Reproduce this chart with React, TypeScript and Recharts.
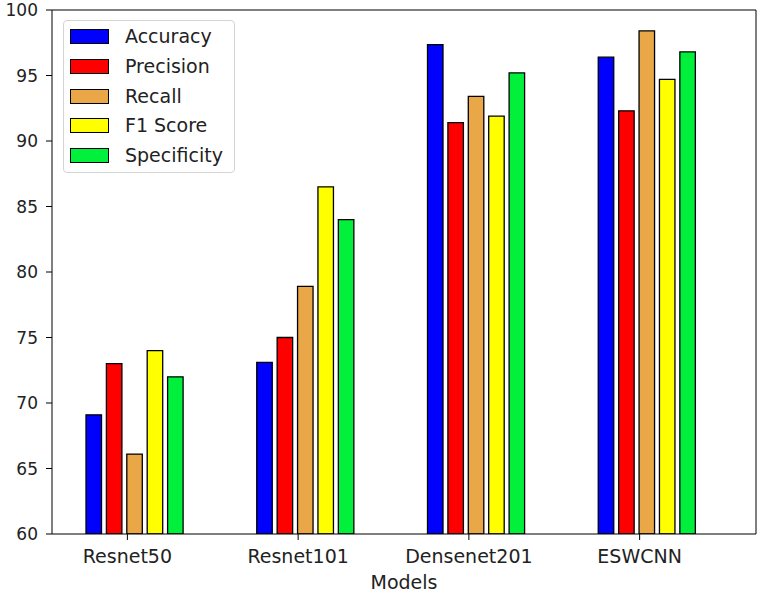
import React from 'react';
import { BarChart, Bar, XAxis, YAxis, Legend, Label, CartesianGrid } from 'recharts';

const models = ['Resnet50', 'Resnet101', 'Densenet201', 'ESWCNN'];
const accuracy = [69.1, 73.1, 97.35, 96.4];
const precision = [73.0, 75.0, 91.4, 92.3];
const recall = [66.1, 78.9, 93.4, 98.4];
const f1Score = [74.0, 86.5, 91.9, 94.7];
const specificity = [72.0, 84.0, 95.2, 96.8];
const yTicks = [60, 65, 70, 75, 80, 85, 90, 95, 100];

const series = [
  { key: 'Accuracy', values: accuracy, color: '#0000ff' },
  { key: 'Precision', values: precision, color: '#ff0000' },
  { key: 'Recall', values: recall, color: '#eaa748' },
  { key: 'F1 Score', values: f1Score, color: '#ffff00' },
  { key: 'Specificity', values: specificity, color: '#00f03c' },
];

const data = models.map((name, i) => {
  const row: Record<string, string | number> = { name };
  series.forEach((s) => {
    row[s.key] = s.values[i];
  });
  return row;
});

const FONT = "'DejaVu Sans', sans-serif";

// matplotlib puts the tick a bit left of the bar group centre
const XTick = ({ x, y, payload }: any) => {
  const tx = x - 7;
  return (
    <g>
      <line x1={tx} y1={y} x2={tx} y2={y + 6} stroke="#000" strokeWidth={1} />
      <text x={tx} y={y + 29} textAnchor="middle" fontSize={19} fontFamily={FONT} fill="#222">
        {payload.value}
      </text>
    </g>
  );
};

const LegendBox = () => (
  <div
    style={{
      width: 172,
      height: 153,
      boxSizing: 'border-box',
      border: '1px solid #d4d4d4',
      borderRadius: 4,
      background: 'rgba(255,255,255,0.85)',
      paddingTop: 1,
      fontFamily: FONT,
      fontSize: 19,
      color: '#222',
    }}
  >
    {series.map((s) => (
      <div key={s.key} style={{ height: 29.7, display: 'flex', alignItems: 'center' }}>
        <div
          style={{
            marginLeft: 6,
            width: 39,
            height: 15,
            boxSizing: 'border-box',
            background: s.color,
            border: '1.3px solid #000',
          }}
        />
        <span style={{ marginLeft: 16, lineHeight: 1 }}>{s.key}</span>
      </div>
    ))}
  </div>
);

const App: React.FC = () => {
  return (
    <div style={{ position: 'absolute', left: 0, top: 0, background: '#fff' }}>
      <BarChart
        width={760}
        height={592}
        data={data}
        margin={{ top: 10, right: 4, left: 0, bottom: 0 }}
        barSize={15.5}
        barGap={4.9}
      >
        {/* top and right spines of the frame */}
        <CartesianGrid
          stroke="#000"
          strokeWidth={1}
          horizontalCoordinatesGenerator={({ offset }: any) => [offset.top]}
          verticalCoordinatesGenerator={({ offset }: any) => [offset.left + offset.width]}
        />
        <XAxis
          dataKey="name"
          height={58}
          padding={{ left: -3, right: 24 }}
          axisLine={{ stroke: '#000', strokeWidth: 1 }}
          tickLine={false}
          tickSize={0}
          tickMargin={0}
          tick={<XTick />}
          interval={0}
        >
          <Label
            content={({ viewBox }: any) => (
              <text
                x={viewBox.x + viewBox.width / 2}
                y={viewBox.y + 55}
                textAnchor="middle"
                fontSize={19}
                fontFamily={FONT}
                fill="#222"
              >
                Models
              </text>
            )}
          />
        </XAxis>
        <YAxis
          width={52}
          domain={[60, 100]}
          ticks={yTicks}
          allowDataOverflow
          axisLine={{ stroke: '#000', strokeWidth: 1 }}
          tickLine={{ stroke: '#000', strokeWidth: 1 }}
          tickSize={6}
          tickMargin={8}
          tick={{ fontSize: 17, fontFamily: FONT, fill: '#222' }}
        />
        <Legend
          layout="vertical"
          align="center"
          verticalAlign="middle"
          wrapperStyle={{ left: 63, top: 20, width: 172, height: 153 }}
          content={() => <LegendBox />}
        />
        {series.map((s) => (
          <Bar
            key={s.key}
            dataKey={s.key}
            fill={s.color}
            stroke="#000"
            strokeWidth={1.3}
            isAnimationActive={false}
          />
        ))}
      </BarChart>
    </div>
  );
};

export default App;
